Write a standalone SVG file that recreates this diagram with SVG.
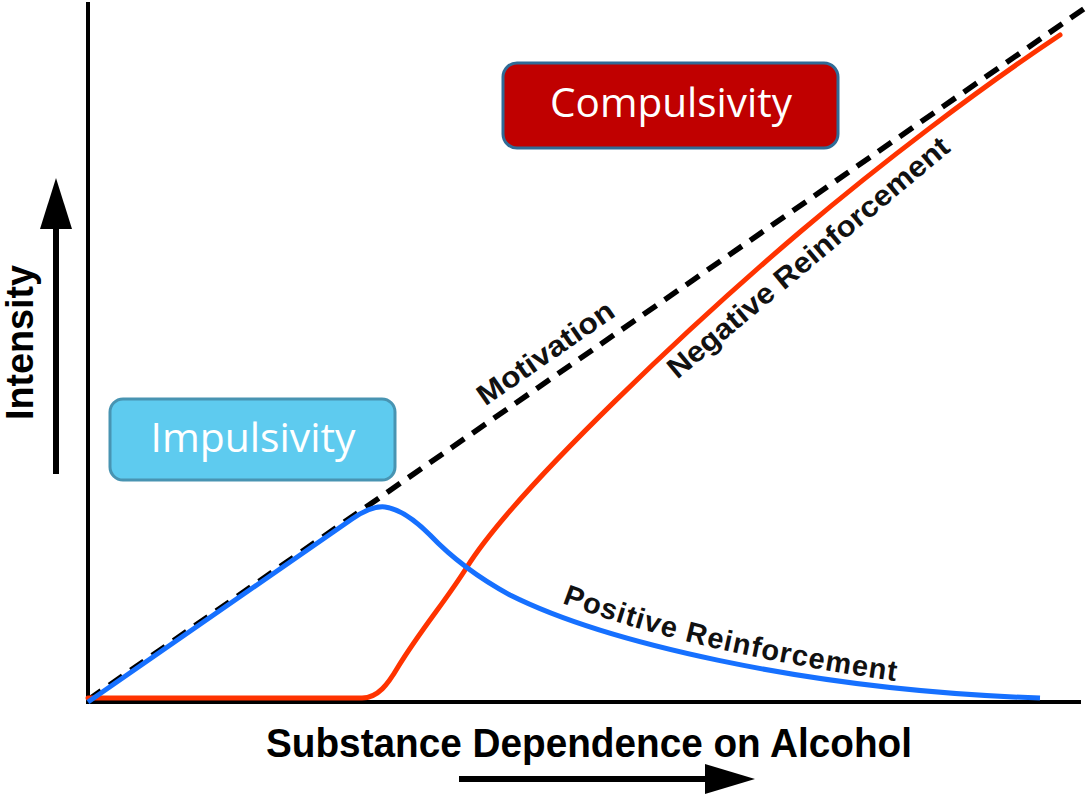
<svg xmlns="http://www.w3.org/2000/svg" width="1091" height="799" viewBox="0 0 1091 799">
  <style>
    .axis { stroke: #000; stroke-width: 4; fill: none; }
    .arrowline { stroke: #000; stroke-width: 6; fill: none; }
    .axislabel { font-family: "Liberation Sans", Arial, Helvetica, sans-serif; font-weight: bold; fill: #000; }
    .curvelabel { font-family: "Liberation Sans", Arial, Helvetica, sans-serif; font-weight: bold; font-size: 29px; fill: #111; }
    .boxtext { font-family: "Open Sans", "Noto Sans", "DejaVu Sans", sans-serif; font-size: 41px; fill: #fff; }
  </style>
  <defs>
    <path id="posPath" d="M 562 603 Q 690 652 902 682"/>
  </defs>
  <rect width="1091" height="799" fill="#fff"/>

  <g id="axes">
    <line class="axis" x1="88" y1="2" x2="88" y2="704"/>
    <line class="axis" x1="86" y1="702" x2="1081" y2="702"/>
  </g>

  <g id="axis-arrows">
    <line class="arrowline" x1="56" y1="474" x2="56" y2="226"/>
    <polygon points="56,178 40,229 72,229" fill="#000"/>
    <line class="arrowline" x1="459" y1="779" x2="708" y2="779"/>
    <polygon points="755,779 705,764 705,794" fill="#000"/>
  </g>

  <g id="axis-labels">
    <text class="axislabel" font-size="39" transform="translate(33,342.5) rotate(-90)" text-anchor="middle" textLength="155" lengthAdjust="spacingAndGlyphs">Intensity</text>
    <text class="axislabel" font-size="40" x="266" y="757" textLength="646" lengthAdjust="spacingAndGlyphs">Substance Dependence on Alcohol</text>
  </g>

  <g id="curves">
    <path id="motivation" d="M 88 700 L 1085 8" stroke="#000" stroke-width="5.5" stroke-dasharray="16 10" fill="none"/>
    <path id="negative-reinforcement" d="M 88 698 L 362 698 C 378 698 388 684 398 667 C 422 628 445 602 467 567 C 517 487 700 317 800 232 C 880 164 980 88 1060 35" stroke="#ff3300" stroke-width="5" fill="none" stroke-linecap="round"/>
    <path id="positive-reinforcement" d="M 88 702 L 352 519 C 365 510 375 506 385 507 C 400 509 415 520 430 535 C 450 556 475 576 510 595 C 600 640 800 690 1040 698" stroke="#1670ff" stroke-width="5" fill="none"/>
  </g>

  <g id="curve-labels">
    <text class="curvelabel" transform="translate(551,361) rotate(-34.7)" text-anchor="middle" textLength="160" lengthAdjust="spacingAndGlyphs">Motivation</text>
    <text class="curvelabel" transform="translate(814.5,265) rotate(-39.9)" text-anchor="middle" textLength="358" lengthAdjust="spacingAndGlyphs">Negative Reinforcement</text>
    <text class="curvelabel" letter-spacing="1"><textPath href="#posPath">Positive Reinforcement</textPath></text>
  </g>

  <g id="impulsivity">
    <rect x="110" y="399" width="285" height="81" rx="13" fill="#5ecbef" stroke="#4894b2" stroke-width="3"/>
    <text class="boxtext" x="253" y="452" text-anchor="middle" textLength="205" lengthAdjust="spacingAndGlyphs">Impulsivity</text>
  </g>

  <g id="compulsivity">
    <rect x="503" y="63" width="335" height="85" rx="14" fill="#c00000" stroke="#2f6b96" stroke-width="3"/>
    <text class="boxtext" x="671" y="117" text-anchor="middle" textLength="242" lengthAdjust="spacingAndGlyphs">Compulsivity</text>
  </g>
</svg>
